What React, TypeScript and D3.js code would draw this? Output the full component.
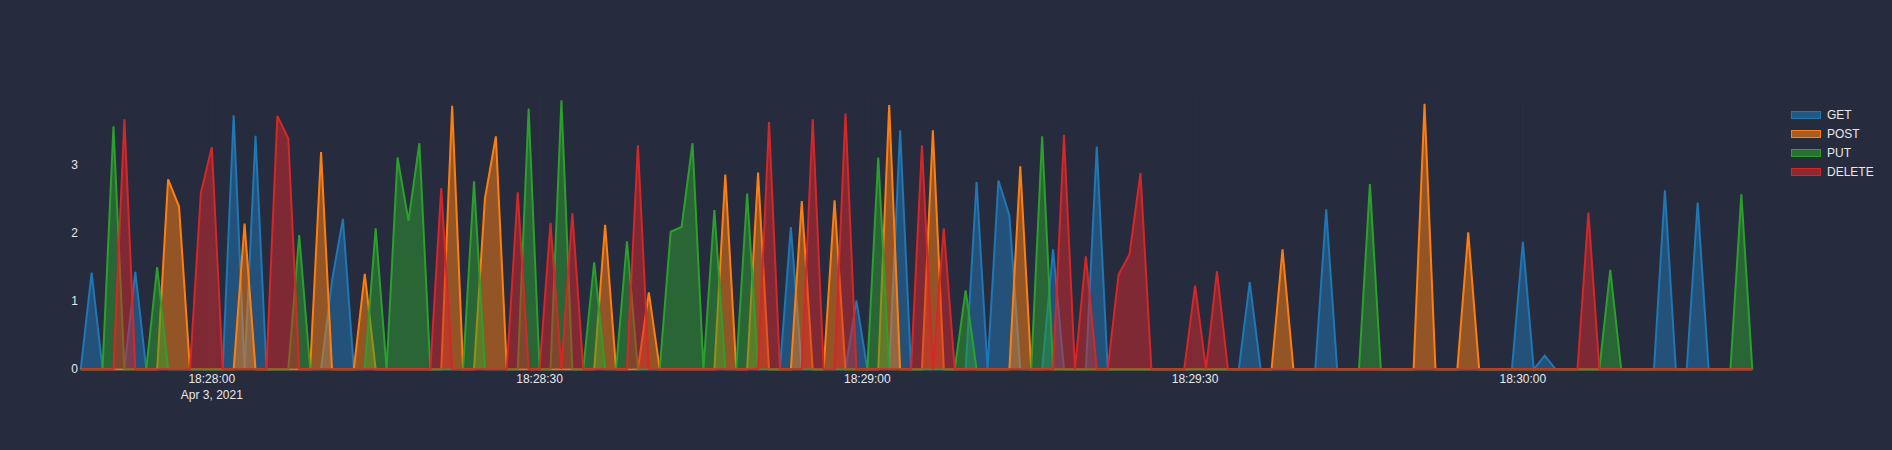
import React from "react";
import * as d3 from "d3";

const WIDTH = 1892;
const HEIGHT = 450;

// Time axis: one sample per second, starting 18:27:48 on Apr 3, 2021
const START = new Date(2021, 3, 3, 18, 27, 48);
const N_POINTS = 154;

const seriesNames = ["GET", "POST", "PUT", "DELETE"];
const seriesColors = ["#1f77b4", "#ff7f0e", "#2ca02c", "#d62728"];

// Sparse readings: [second index, value]; all other seconds are 0
const getSpikes: [number, number][] = [
  [1, 1.42], [5, 1.43], [14, 3.73], [16, 3.43], [23, 1.3], [24, 2.21],
  [65, 2.09], [71, 1.01], [75, 3.51], [82, 2.75], [84, 2.77], [85, 2.26],
  [89, 1.76], [93, 3.27], [107, 1.28], [114, 2.35], [132, 1.87], [134, 0.2],
  [145, 2.63], [148, 2.45],
];
const postSpikes: [number, number][] = [
  [8, 2.79], [9, 2.39], [15, 2.14], [22, 3.19], [26, 1.4], [34, 3.87],
  [37, 2.51], [38, 3.42], [48, 2.12], [52, 1.13], [59, 2.86], [62, 2.89],
  [66, 2.47], [69, 2.48], [74, 3.88], [78, 3.51], [86, 2.98], [110, 1.76],
  [123, 3.9], [127, 2.01],
];
const putSpikes: [number, number][] = [
  [3, 3.57], [7, 1.5], [20, 1.97], [27, 2.07], [29, 3.11], [30, 2.18],
  [31, 3.32], [36, 2.76], [41, 3.83], [44, 3.95], [47, 1.57], [50, 1.88],
  [54, 2.02], [55, 2.09], [56, 3.32], [58, 2.34], [61, 2.58], [73, 3.11],
  [81, 1.16], [88, 3.42], [118, 2.72], [140, 1.46], [152, 2.57],
];
const deleteSpikes: [number, number][] = [
  [4, 3.67], [11, 2.59], [12, 3.26], [18, 3.72], [19, 3.39], [33, 2.66],
  [40, 2.6], [43, 2.15], [45, 2.29], [51, 3.29], [63, 3.63], [67, 3.67],
  [70, 3.76], [77, 3.29], [79, 2.07], [90, 3.44], [92, 1.66], [95, 1.39],
  [96, 1.69], [97, 2.88], [102, 1.23], [104, 1.44], [138, 2.3],
];

const yTicks = [0, 1, 2, 3];

function expand(spikes: [number, number][]) {
  const vals = new Array(N_POINTS).fill(0);
  spikes.forEach(([i, v]) => (vals[i] = v));
  return vals.map((v, i) => ({ t: new Date(START.getTime() + i * 1000), v }));
}

const allSeries = [getSpikes, postSpikes, putSpikes, deleteSpikes].map(expand);

export default function App() {
  const x = d3
    .scaleTime()
    .domain([START, new Date(START.getTime() + (N_POINTS - 1) * 1000)])
    .range([80.7, 1752.3]);
  const y = d3.scaleLinear().domain([0, 4]).range([369.3, 96.9]);

  const area = d3
    .area<{ t: Date; v: number }>()
    .x((d) => x(d.t))
    .y0(y(0))
    .y1((d) => y(d.v));
  const line = d3
    .line<{ t: Date; v: number }>()
    .x((d) => x(d.t))
    .y((d) => y(d.v));

  const xTicks = x.ticks(d3.timeSecond.every(30) as any);
  const fmtTime = d3.timeFormat("%H:%M:%S");
  const fmtDate = d3.timeFormat("%b %-d, %Y");
  const font = "'Liberation Sans', Arial, sans-serif";

  return (
    <svg
      width={WIDTH}
      height={HEIGHT}
      style={{ position: "absolute", left: 0, top: 0, display: "block" }}
    >
      <rect x={0} y={0} width={WIDTH} height={HEIGHT} fill="#272b3e" />
      {xTicks.map((t, k) => (
        <line
          key={"gx" + k}
          x1={x(t)}
          x2={x(t)}
          y1={y(4)}
          y2={y(0)}
          stroke="rgba(255,255,255,0.025)"
        />
      ))}
      {allSeries.map((s, k) => (
        <g key={"s" + k}>
          <path d={area(s) || ""} fill={seriesColors[k]} fillOpacity={0.5} />
          <path
            d={line(s) || ""}
            fill="none"
            stroke={seriesColors[k]}
            strokeWidth={2}
          />
        </g>
      ))}
      {yTicks.map((v) => (
        <text
          key={"yt" + v}
          x={78}
          y={y(v)}
          dy="0.33em"
          textAnchor="end"
          fontFamily={font}
          fontSize={12}
          fill="#e8e8e8"
        >
          {v}
        </text>
      ))}
      {xTicks.map((t, k) => (
        <text
          key={"xt" + k}
          x={x(t)}
          y={383}
          textAnchor="middle"
          fontFamily={font}
          fontSize={12}
          fill="#e8e8e8"
        >
          {fmtTime(t)}
          {k === 0 && (
            <tspan x={x(t)} dy={16}>
              {fmtDate(t)}
            </tspan>
          )}
        </text>
      ))}
      {seriesNames.map((name, k) => (
        <g key={"lg" + k} transform={`translate(1791, ${111 + k * 19})`}>
          <rect
            x={0.5}
            y={0.5}
            width={29}
            height={7}
            fill={seriesColors[k]}
            fillOpacity={0.6}
            stroke={seriesColors[k]}
            strokeWidth={1}
          />
          <text
            x={36}
            y={4}
            dy="0.35em"
            fontFamily={font}
            fontSize={12}
            fill="#e8e8e8"
          >
            {name}
          </text>
        </g>
      ))}
    </svg>
  );
}
